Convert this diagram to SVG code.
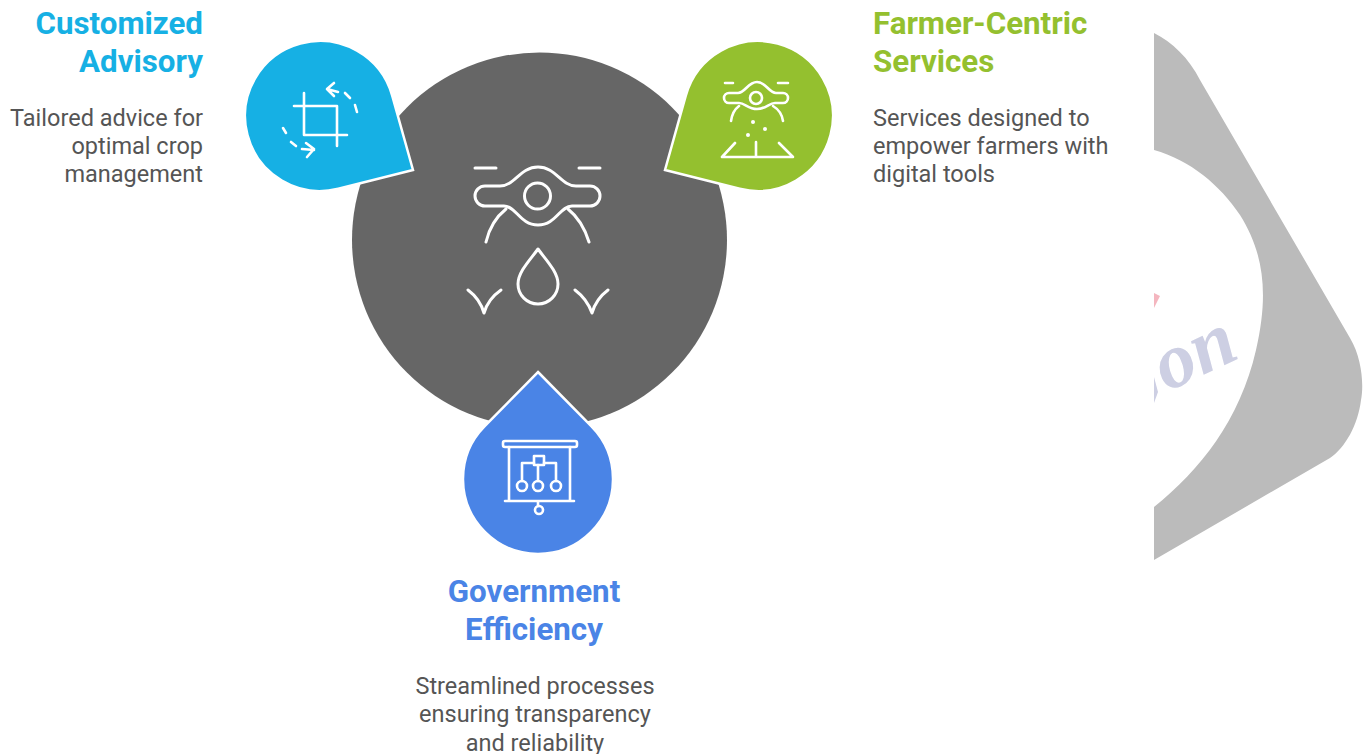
<svg xmlns="http://www.w3.org/2000/svg" width="1368" height="754" viewBox="0 0 1368 754">
<style>
.t{font-family:Roboto,"Liberation Sans",sans-serif;font-weight:700;font-size:31.300px}
.b{font-family:Roboto,"Liberation Sans",sans-serif;font-size:23.500px;fill:#555}
.i{fill:none;stroke:#fff;stroke-width:3;stroke-linecap:round;stroke-linejoin:round}
.i2{fill:none;stroke:#fff;stroke-width:2.600;stroke-linecap:round;stroke-linejoin:round}
.dot{fill:#fff}
.drop{stroke:#fff;stroke-width:2.500;stroke-linejoin:miter}
</style>
<rect width="1368" height="754" fill="#fff"/>
<g id="watermark">
<path d="M1154 33C1172 42 1189 58 1200 80L1350 338C1362 358 1364 385 1361 400C1358 425 1345 448 1330 458L1154 560V507C1200 470 1240 420 1256 350C1270 290 1262 250 1240 215C1220 185 1190 160 1154 150Z" fill="#bbb"/>
<text x="1167" y="392" transform="rotate(-25 1167 392)" font-family="Liberation Serif,serif" font-style="italic" font-weight="700" font-size="78" fill="#cdcfe3">on</text>
<path d="M1154 293L1160 296L1154 308Z" fill="#f4b6bf"/>
<path d="M1154 377L1158 392L1154 403Z" fill="#cdcfe3"/>
</g>
<g id="hub">
<circle cx="539.500" cy="240" r="187.500" fill="#666"/>
<g class="i">
<path d="M475 168H496M579 168H600"/>
<path d="M485 186H500C515 186 520 167 538 167C556 167 561 186 576 186H590A10 10 0 0 1 590 206H572C560 206 556 225 538 225C520 225 516 206 504 206H485A10 10 0 0 1 485 186Z"/>
<circle cx="537.500" cy="196" r="13"/>
<path d="M506 209C496 217 489 229 486 242M568 209C578 217 585 229 589 242"/>
<path d="M538 249C530 260 518 272 518 284A20 20 0 0 0 558 284C558 272 546 260 538 249Z"/>
<path d="M468 290Q480 299 484 313Q488 299 501 290M575 290Q587 299 592 313Q596 299 608 290"/>
</g>
</g>
<g id="customized-advisory">
<path class="drop" d="M413 170L338.300 188.700A75 75 0 1 1 392.200 95.700Z" fill="#16b0e4"/>
<g class="i2">
<path d="M294 106H337V146M304 93V135H347"/>
<path d="M334 83L327 89L334 96M327 89L338 92M345 93L350 98M355 105L357 112"/>
<path d="M283 128L286 133M291 142L296 146M302 149L314 150M306 143L314 149L307 157"/>
</g>
<text class="t" x="203" y="33.500" text-anchor="end" fill="#16b0e4">Customized</text>
<text class="t" x="203" y="71.500" text-anchor="end" fill="#16b0e4">Advisory</text>
<text class="b" x="203" y="125.500" text-anchor="end">Tailored advice for</text>
<text class="b" x="203" y="153.500" text-anchor="end">optimal crop</text>
<text class="b" x="203" y="181.500" text-anchor="end">management</text>
</g>
<g id="farmer-centric-services">
<path class="drop" d="M665 170L739.700 188.700A75 75 0 1 0 685.800 95.700Z" fill="#94c02f"/>
<g class="i2">
<path d="M725 83H733M778 83H788"/>
<path d="M729 93H738C745 93 748 82 757 82C766 82 769 93 776 93H783A5 5 0 0 1 783 103H775C769 103 766 109 757 109C748 109 745 103 739 103H729A5 5 0 0 1 729 93Z"/>
<circle cx="756" cy="98" r="6"/>
<path d="M731 121C732 114 735 109 739 106M783 121C782 114 778 109 773 106"/>
<path d="M735 143L722 157H793L779 143M756 142V157"/>
</g>
<circle class="dot" cx="753" cy="122" r="2"/><circle class="dot" cx="765" cy="129" r="2"/><circle class="dot" cx="748" cy="135" r="2"/>
<text class="t" x="873" y="33.500" fill="#94c02f">Farmer-Centric</text>
<text class="t" x="873" y="71.500" fill="#94c02f">Services</text>
<text class="b" x="873" y="125.500" >Services designed to</text>
<text class="b" x="873" y="153.500">empower farmers with</text>
<text class="b" x="873" y="181.500">digital tools</text>
</g>
<g id="government-efficiency">
<path class="drop" d="M538 372L591.500 426.400A75 75 0 1 1 484.500 426.400Z" fill="#4a84e6"/>
<g class="i2">
<rect x="503" y="441" width="74" height="6" rx="2"/>
<path d="M509 447V501M570 447V501M505 501H574M538 501V506"/>
<circle cx="539" cy="510" r="4"/>
<rect x="534" y="456" width="10" height="9"/>
<path d="M538 465V481M534 463H522V481M544 463H556V481"/>
<circle cx="522" cy="486" r="5"/><circle cx="538" cy="486" r="5"/><circle cx="556" cy="486" r="5"/>
</g>
<text class="t" x="534" y="601.500" text-anchor="middle" fill="#4a84e6">Government</text>
<text class="t" x="534" y="639.500" text-anchor="middle" fill="#4a84e6">Efficiency</text>
<text class="b" x="535" y="693.500" text-anchor="middle">Streamlined processes</text>
<text class="b" x="535" y="722" text-anchor="middle">ensuring transparency</text>
<text class="b" x="535" y="750.500" text-anchor="middle">and reliability</text>
</g>
</svg>
